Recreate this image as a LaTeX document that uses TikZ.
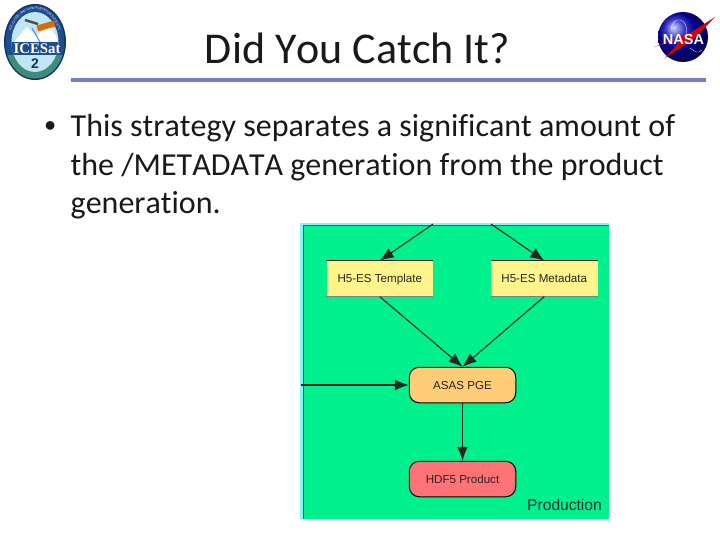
\documentclass[tikz,border=0pt]{standalone}
\usepackage{fontspec}
\setmainfont[Ligatures=NoCommon,Kerning=Off]{Carlito}
\newfontfamily\diagfont{Liberation Sans}
\newfontfamily\logofont{Liberation Serif}
\usetikzlibrary{arrows.meta,decorations.text}
\definecolor{panelgreen}{HTML}{00F08E}
\definecolor{panelcyan}{HTML}{85F5F5}
\definecolor{boxyellow}{HTML}{FFF58C}
\definecolor{boxorange}{HTML}{FFCC77}
\definecolor{boxred}{HTML}{FF7377}
\definecolor{rulecol}{HTML}{6F7FC8}
\definecolor{logonavy}{HTML}{14306E}
\definecolor{logoring}{HTML}{1F4E8C}
\definecolor{logosky}{HTML}{BFE6F2}
\definecolor{logoteal}{HTML}{3F8C78}
\tikzset{
  body/.style={anchor=base west,inner sep=0pt,font=\fontsize{32}{32}\selectfont,text=black!90},
  boxtext/.style={inner sep=0pt,text height=8pt,text depth=0pt,font=\diagfont\fontsize{11.6}{12}\selectfont,text=black!85},
  filebox/.style={boxtext,draw=none,fill=boxyellow,minimum width=106.5pt,minimum height=35.5pt},
  procbox/.style={boxtext,draw=black,line width=1pt,rounded corners=10pt,minimum width=106.5pt,minimum height=35.5pt},
  flow/.style={draw=black!85,line width=1.1pt,-{Latex[length=14pt,width=11pt]}},
}
\begin{document}
\begin{tikzpicture}[x=1pt,y=-1pt]
\useasboundingbox (0,0) rectangle (720,540);
\fill[white] (0,0) rectangle (720,540);
% title and rule
\node[anchor=base,inner sep=0pt,font=\fontsize{44}{45}\selectfont,text=black!90] (title) at (357.5,63.5) {Did You Catch It?};
\fill[rulecol] (71,78) rectangle (706,82);
% bullet text
\node[body,font=\diagfont\fontsize{32}{32}\selectfont] (bullet) at (44.5,137) {•};
\node[body] (l1) at (70.5,137) {This strategy separates a significant amount of};
\node[body] (l2) at (70.5,175.5) {the /METADATA generation from the product};
\node[body] (l3) at (70.5,214) {generation.};
% ICESat logo
\fill[logonavy] (35,42) ellipse (31 and 38);
\fill[logoring] (35,42) ellipse (29.5 and 36.5);
\begin{scope}
\clip (35,42) ellipse (29.5 and 36.5);
\fill[logoteal] (0,55) rectangle (70,80);
\end{scope}
\path[postaction={decorate,decoration={text along path,text align=center,
   text={|\diagfont\fontsize{3}{4}\selectfont\color{white}|ICE, CLOUD, AND LAND ELEVATION SATELLITE}}}]
   (9,44) .. controls (9,25) and (20.6,9) .. (35,9) .. controls (49.4,9) and (61,25) .. (61,44);
\begin{scope}
\clip (35,42) ellipse (23.5 and 30);
\fill[logosky] (5,5) rectangle (65,75);
\fill[white] (12,44) -- (27,27) -- (36,36) -- (50,25) -- (60,44) -- cycle;
\fill[logoring] (5,42) rectangle (65,55);
\end{scope}
\draw[black!70,line width=2.4pt] (25,20) -- (38,24);
\fill[orange!85!black,rotate around={16:(46,26)}] (37,23) rectangle (55,29);
\draw[logosky!60!blue,line width=1.2pt] (32,28) -- (40,42);
\node[inner sep=0pt,font=\logofont\bfseries\fontsize{14.8}{15}\selectfont,text=white] (icesat) at (37,48.5) {ICESat};
\node[inner sep=0pt,font=\diagfont\bfseries\fontsize{14}{14}\selectfont,text=logonavy] (two) at (35,63.5) {2};
% NASA logo
\shade[ball color=blue!75!black] (683,37) circle (25);
\fill[red!85!black] (654,47) -- (690,33) -- (715,17) -- (695,38) -- (665,58) -- (683,38) -- cycle;
\draw[white,line width=0.3pt] (671,30) .. controls (672,14) and (690,18) .. (686,34);
\draw[white,line width=0.3pt] (690,48) .. controls (695,52) and (698,54) .. (702,50);
\node[inner sep=0pt,font=\diagfont\bfseries\fontsize{14.5}{15}\selectfont,text=white] (nasa) at (683.5,39.5) {NASA};
% panel
\fill[panelcyan] (300,223) rectangle (609,519);
\fill[panelgreen] (303.5,225) rectangle (609,519);
\draw[black!45!panelgreen,line width=0.6pt] (303.5,225) -- (609,225);
\draw[black!45!panelgreen,line width=0.6pt] (303.5,225) -- (303.5,519);
\coordinate (srcA) at (433,224);
\coordinate (srcB) at (491,224);
\coordinate (srcC) at (301,385);
\node[filebox] (tmpl) at (379.75,278.75) {H5-ES Template};
\node[filebox] (meta) at (544.25,278.75) {H5-ES Metadata};
\draw[black!85,line width=1.2pt] (tmpl.north west) -- (tmpl.north east);
\draw[black!50,line width=0.5pt] (tmpl.south west) -- (tmpl.south east);
\draw[black!85,line width=1.2pt] (meta.north west) -- (meta.north east);
\draw[black!50,line width=0.5pt] (meta.south west) -- (meta.south east);
\node[procbox,fill=boxorange] (pge) at (462.5,385) {ASAS PGE};
\node[procbox,fill=boxred] (prod) at (462.5,479) {HDF5 Product};
\node[anchor=base east,inner sep=0pt,font=\diagfont\fontsize{15.6}{16}\selectfont,text=black!80] (lab) at (602,510.7) {Production};
\draw[flow] (srcA) -- (tmpl.north);
\draw[flow] (srcB) -- (meta.north);
\draw[flow] (tmpl.south) -- (pge.north);
\draw[flow] (meta.south) -- (pge.north);
\draw[flow] (srcC) -- (pge.west);
\draw[flow] (pge.south) -- (prod.north);
\end{tikzpicture}
\end{document}
